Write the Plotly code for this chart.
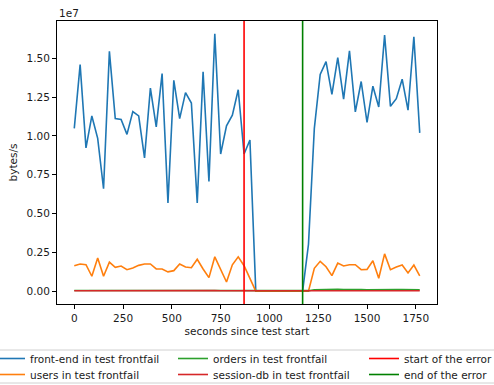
import plotly.graph_objects as go

# Sampling times (seconds since test start), one sample every 30 s
seconds = [30 * i for i in range(60)]

# Throughput per service in bytes/s
front_end = [
    1.049e7, 1.460e7, 0.923e7, 1.129e7, 0.985e7, 0.660e7, 1.545e7, 1.112e7, 1.106e7, 1.010e7,
    1.157e7, 1.129e7, 0.859e7, 1.308e7, 1.059e7, 1.402e7, 0.569e7, 1.359e7, 1.112e7, 1.279e7,
    1.212e7, 0.569e7, 1.413e7, 0.707e7, 1.658e7, 0.884e7, 1.065e7, 1.134e7, 1.298e7, 0.884e7,
    0.974e7, 0.0, 0.0, 0.0, 0.0, 0.0, 0.0, 0.0, 0.0, 0.0,
    0.302e7, 1.049e7, 1.396e7, 1.479e7, 1.268e7, 1.505e7, 1.238e7, 1.549e7, 1.155e7, 1.351e7,
    1.087e7, 1.321e7, 1.187e7, 1.650e7, 1.191e7, 1.240e7, 1.366e7, 1.166e7, 1.639e7, 1.020e7,
]
users = [
    1.64e6, 1.75e6, 1.70e6, 0.96e6, 2.13e6, 0.96e6, 1.87e6, 1.53e6, 1.62e6, 1.38e6,
    1.49e6, 1.66e6, 1.75e6, 1.75e6, 1.43e6, 1.43e6, 1.24e6, 1.32e6, 1.75e6, 1.55e6,
    1.51e6, 2.05e6, 1.43e6, 0.87e6, 2.21e6, 1.43e6, 0.59e6, 1.70e6, 2.21e6, 1.64e6,
    0.83e6, 0.0, 0.0, 0.0, 0.0, 0.0, 0.0, 0.0, 0.0, 0.0,
    0.0, 1.47e6, 1.92e6, 1.57e6, 1.00e6, 1.81e6, 1.62e6, 1.70e6, 1.70e6, 1.38e6,
    1.40e6, 1.96e6, 0.83e6, 2.40e6, 1.38e6, 1.55e6, 1.68e6, 1.17e6, 1.68e6, 0.98e6,
]
orders = [
    4.2e4, 4.6e4, 3.9e4, 4.4e4, 4.1e4, 3.6e4, 4.8e4, 4.3e4, 4.0e4, 4.5e4,
    4.2e4, 4.4e4, 3.8e4, 4.6e4, 4.1e4, 4.7e4, 3.5e4, 4.5e4, 4.2e4, 4.4e4,
    4.3e4, 3.6e4, 4.6e4, 3.8e4, 4.9e4, 3.9e4, 4.1e4, 4.3e4, 4.5e4, 3.9e4,
    2.0e4, 4.0e3, 4.0e3, 4.0e3, 4.0e3, 4.0e3, 4.0e3, 4.0e3, 4.0e3, 4.0e3,
    3.0e4, 9.0e4, 1.05e5, 1.10e5, 1.00e5, 1.12e5, 9.8e4, 1.14e5, 9.6e4, 1.06e5,
    9.4e4, 1.04e5, 9.7e4, 1.18e5, 9.8e4, 1.00e5, 1.06e5, 9.6e4, 1.16e5, 9.2e4,
]
session_db = [
    2.6e4, 2.8e4, 2.4e4, 2.7e4, 2.5e4, 2.3e4, 2.9e4, 2.6e4, 2.5e4, 2.7e4,
    2.6e4, 2.7e4, 2.4e4, 2.8e4, 2.5e4, 2.8e4, 2.2e4, 2.7e4, 2.6e4, 2.7e4,
    2.6e4, 2.2e4, 2.8e4, 2.4e4, 3.0e4, 2.4e4, 2.5e4, 2.6e4, 2.7e4, 2.4e4,
    1.5e4, 3.0e3, 3.0e3, 3.0e3, 3.0e3, 3.0e3, 3.0e3, 3.0e3, 3.0e3, 3.0e3,
    1.5e4, 2.6e4, 2.8e4, 2.9e4, 2.7e4, 2.9e4, 2.6e4, 3.0e4, 2.5e4, 2.8e4,
    2.5e4, 2.7e4, 2.6e4, 3.1e4, 2.6e4, 2.7e4, 2.8e4, 2.6e4, 3.0e4, 2.5e4,
]

# Error window markers (seconds)
error_start = 870
error_end = 1170

# Axis ticks
x_ticks = [0, 250, 500, 750, 1000, 1250, 1500, 1750]
y_tick_vals = [0, 2.5e6, 5.0e6, 7.5e6, 1.0e7, 1.25e7, 1.5e7]
y_tick_text = ["0.00", "0.25", "0.50", "0.75", "1.00", "1.25", "1.50"]

FONT = "DejaVu Sans"
FS = 10.5
INK = "#1a1a1a"

# Figure and plotting-area geometry in pixels
W, H = 494, 385
ML, MR, MT, MB = 57, 57, 21, 81
PW = W - ML - MR
PH = H - MT - MB


def px_x(p):
    return (p - ML) / PW


def px_y(p):
    return (H - MB - p) / PH


# Legend grid: three columns, two rows; each cell is its own legend box
COL_LEFT = [-10, 173, 364]
ROW_TOP = [344, 360]

series = [
    ("front-end in test frontfail", front_end, "#1f77b4", "legend"),
    ("users in test frontfail", users, "#ff7f0e", "legend4"),
    ("orders in test frontfail", orders, "#2ca02c", "legend2"),
    ("session-db in test frontfail", session_db, "#d62728", "legend5"),
]

fig = go.Figure()
for name, vals, color, leg in series:
    fig.add_trace(go.Scatter(
        x=seconds, y=vals, name=name, mode="lines",
        line=dict(color=color, width=1.6),
        legend=leg,
    ))

# Full-height markers for the error window
for xv, color, name, leg in [(error_start, "#ff0000", "start of the error", "legend3"),
                             (error_end, "#008000", "end of the error", "legend6")]:
    fig.add_shape(
        type="line", xref="x", yref="y domain",
        x0=xv, x1=xv, y0=0, y1=1,
        line=dict(color=color, width=1.6),
        name=name, showlegend=True, legend=leg,
    )

# Legend frame spanning the three columns
fig.add_shape(
    type="rect", xref="paper", yref="paper",
    x0=px_x(-1), x1=px_x(496), y0=px_y(383), y1=px_y(350),
    line=dict(color="#d0d0d0", width=1), fillcolor="rgba(255,255,255,0)",
    layer="above",
)

# Axis offset label
fig.add_annotation(
    text="1e7", xref="paper", yref="paper", x=0, y=1,
    xanchor="left", yanchor="bottom", showarrow=False,
    font=dict(family=FONT, size=FS, color=INK), yshift=0,
)

x_min, x_max = min(seconds), max(seconds)
x_pad = 0.05 * (x_max - x_min)
all_vals = front_end + users + orders + session_db
y_min, y_max = 0.0, max(all_vals)
y_pad = 0.05 * (y_max - y_min)

legend_common = dict(
    orientation="v", bgcolor="rgba(0,0,0,0)", borderwidth=0,
    font=dict(family=FONT, size=FS, color=INK),
    xanchor="left", yanchor="top", tracegroupgap=0,
    itemwidth=30,
)

legends = {}
names = ["legend", "legend2", "legend3", "legend4", "legend5", "legend6"]
for i, key in enumerate(names):
    row, col = divmod(i, 3)
    legends[key] = dict(x=px_x(COL_LEFT[col]), y=px_y(ROW_TOP[row]), **legend_common)

fig.update_layout(
    width=W, height=H,
    margin=dict(l=ML, r=MR, t=MT, b=MB, pad=0, autoexpand=False),
    paper_bgcolor="white", plot_bgcolor="white",
    font=dict(family=FONT, size=FS, color=INK),
    showlegend=True,
    **legends,
    xaxis=dict(
        range=[x_min - x_pad, x_max + x_pad],
        tickvals=x_ticks, ticktext=[str(t) for t in x_ticks],
        showgrid=False, zeroline=False, automargin=False,
        showline=True, mirror=True, linecolor="black", linewidth=1,
        ticks="outside", ticklen=4, tickwidth=1, tickcolor="black",
        tickfont=dict(family=FONT, size=FS, color=INK),
        title=dict(text="seconds since test start", standoff=5,
                   font=dict(family=FONT, size=FS, color=INK)),
    ),
    yaxis=dict(
        range=[y_min - y_pad, y_max + y_pad],
        tickvals=y_tick_vals, ticktext=y_tick_text,
        showgrid=False, zeroline=False, automargin=False,
        showline=True, mirror=True, linecolor="black", linewidth=1,
        ticks="outside", ticklen=4, tickwidth=1, tickcolor="black",
        tickfont=dict(family=FONT, size=FS, color=INK),
        title=dict(text="bytes/s", standoff=6,
                   font=dict(family=FONT, size=FS, color=INK)),
    ),
)

fig.write_html("out.html")
